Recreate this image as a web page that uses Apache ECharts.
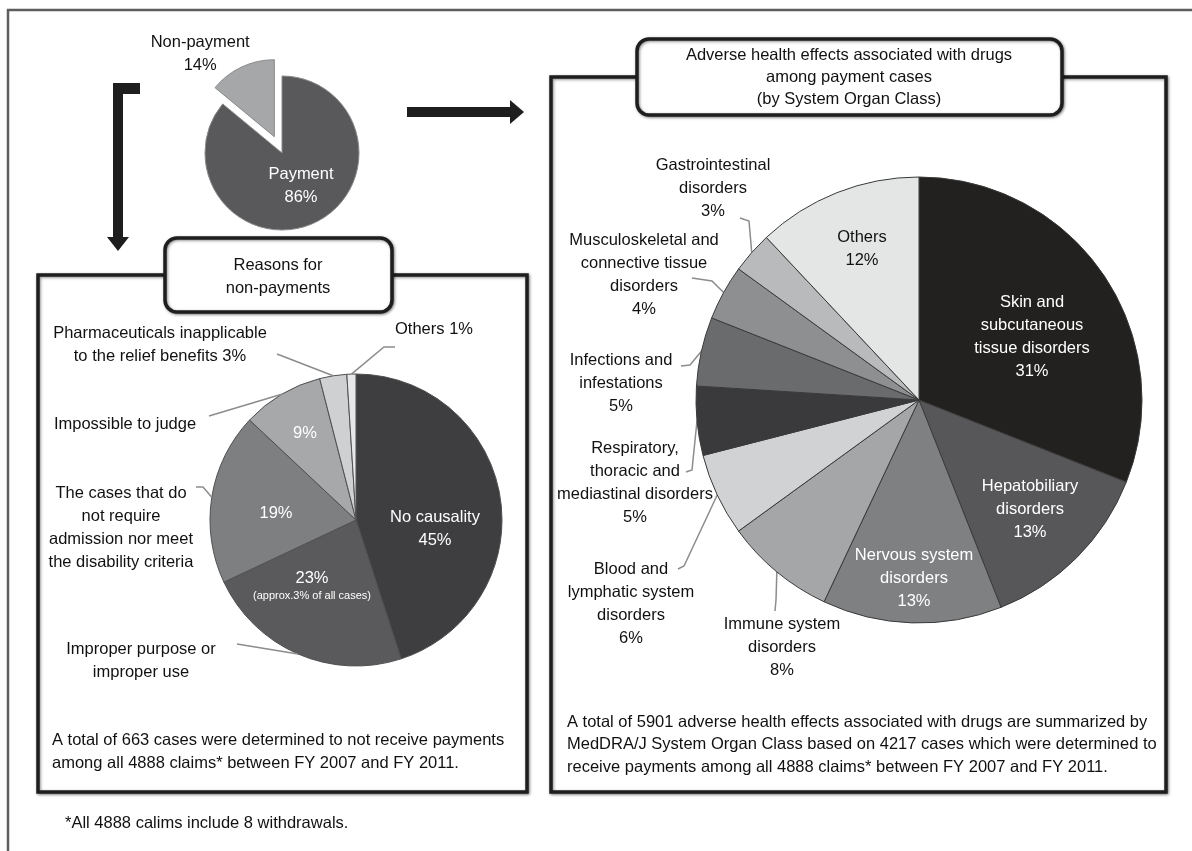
<!DOCTYPE html>
<html>
<head>
<meta charset="utf-8">
<script src="https://cdn.jsdelivr.net/npm/echarts@6/dist/echarts.min.js"></script>
<style>
html,body{margin:0;padding:0;background:#fff;}
#chart{width:1192px;height:851px;}
</style>
</head>
<body>
<div id="chart"></div>
<script>
// ---------- DATA ----------
const payCategories = ['Payment', 'Non-payment'];
const payValues = [86, 14];

const reasonCategories = [
  'No causality',
  'Improper purpose or\nimproper use',
  'The cases that do\nnot require\nadmission nor meet\nthe disability criteria',
  'Impossible to judge',
  'Pharmaceuticals inapplicable\nto the relief benefits',
  'Others'
];
const reasonValues = [45, 23, 19, 9, 3, 1];
const improperNote = '(approx.3% of all cases)';

const socCategories = [
  'Skin and\nsubcutaneous\ntissue disorders',
  'Hepatobiliary\ndisorders',
  'Nervous system\ndisorders',
  'Immune system\ndisorders',
  'Blood and\nlymphatic system\ndisorders',
  'Respiratory,\nthoracic and\nmediastinal disorders',
  'Infections and\ninfestations',
  'Musculoskeletal and\nconnective tissue\ndisorders',
  'Gastrointestinal\ndisorders',
  'Others'
];
const socValues = [31, 13, 13, 8, 6, 5, 5, 4, 3, 12];

const leftTitle = 'Reasons for\nnon-payments';
const rightTitle = 'Adverse health effects associated with drugs\namong payment cases\n(by System Organ Class)';
const leftNote = 'A total of 663 cases were determined to not receive payments\namong all 4888 claims* between FY 2007 and FY 2011.';
const rightNote = 'A total of 5901 adverse health effects associated with drugs are summarized by\nMedDRA/J System Organ Class based on 4217 cases which were determined to\nreceive payments among all 4888 claims* between FY 2007 and FY 2011.';
const footNote = '*All 4888 calims include 8 withdrawals.';

// ---------- STYLE / LAYOUT ----------
const FONT = '"Liberation Sans", Arial, Helvetica, sans-serif';
const FS = 16.5;
const payColors = ['#59595b', '#a5a7a9'];
const reasonColors = ['#3e3e40', '#5a5a5c', '#7e7f81', '#a6a8aa', '#cfd0d2', '#e6e7e8'];
const socColors = ['#222120', '#575759', '#7f8082', '#a4a6a8', '#d1d2d3', '#3a3a3c', '#6a6b6d', '#8d8f91', '#b9babc', '#e4e5e5'];

const payLabelPos = [[301, 186], [175, 77]];
const reasonInsidePos = [[435, 529], [312, 586], [276, 513], [305, 433]];
const reasonOutsidePos = {1: [141, 661], 2: [121, 528], 3: [125, 424], 4: [160, 345], 5: [434, 329]};
const reasonLeader = {1: [[237, 644], [237, 644]], 2: [[203, 487], [196, 487]], 3: [[209, 416], [209, 416]], 4: [[277, 354], [277, 354]], 5: [[384, 347], [395, 347]]};
const socInside = {0: [1032, 337], 1: [1030, 509], 2: [914, 578], 9: [862, 249]};
const socOutside = {3: [782, 647], 4: [631, 604], 5: [635, 483], 6: [621, 383], 7: [644, 275], 8: [713, 188]};
const socLeader = {3: [[776, 600], [775, 611]], 4: [[684, 566], [678, 569]], 5: [[692, 470], [686, 472]], 6: [[690, 365], [681, 366]], 7: [[712, 281], [692, 278]], 8: [[749, 221], [740, 218]]};

function placeAt(pos, leaders) {
  return function (p) {
    const xy = pos[p.dataIndex];
    if (!xy) return {};
    const out = {x: xy[0], y: xy[1], align: 'center', verticalAlign: 'middle'};
    if (leaders && leaders[p.dataIndex] && p.labelLinePoints) {
      const e = p.labelLinePoints[0];
      out.labelLinePoints = [[e[0], e[1]]].concat(leaders[p.dataIndex]);
    }
    return out;
  };
}

const baseLabel = {fontFamily: FONT, fontSize: FS, lineHeight: 23, color: '#111'};

// small pie
const payData = payCategories.map((n, i) => ({
  name: n, value: payValues[i], selected: i === 1,
  itemStyle: {color: payColors[i]},
  label: i === 0
    ? {show: true, position: 'inside', color: '#fff', formatter: n + '\n' + payValues[i] + '%'}
    : {show: true, position: 'outside', color: '#111', formatter: n + '\n' + payValues[i] + '%'},
  labelLine: {show: false}
}));

// reasons pie (slices + inside labels)
const reasonInsideData = reasonCategories.map((n, i) => {
  let fmt = '';
  if (i === 0) fmt = n + '\n' + reasonValues[i] + '%';
  else if (i === 1) fmt = '{a|' + reasonValues[i] + '%}\n{s|' + improperNote + '}';
  else if (i < 4) fmt = reasonValues[i] + '%';
  return {
    name: n, value: reasonValues[i],
    itemStyle: {color: reasonColors[i]},
    label: {show: i < 4, position: 'inside', color: '#fff', formatter: fmt,
      rich: {a: {fontFamily: FONT, fontSize: FS, color: '#fff', lineHeight: 20}, s: {fontFamily: FONT, fontSize: 11, color: '#fff', lineHeight: 16}}}
  };
});
// reasons pie (outside labels)
const reasonOutsideData = reasonCategories.map((n, i) => ({
  name: n, value: reasonValues[i],
  itemStyle: {color: 'rgba(0,0,0,0)', borderWidth: 0},
  label: {show: i > 0, position: 'outside',
    formatter: i >= 4 ? n + ' ' + reasonValues[i] + '%' : n},
  labelLine: {show: i > 0, lineStyle: {color: '#8c8c8c', width: 1.5}}
}));

// SOC pie
const socData = socCategories.map((n, i) => {
  const inside = socInside[i] !== undefined;
  return {
    name: n, value: socValues[i],
    itemStyle: {color: socColors[i]},
    label: {show: true, position: inside ? 'inside' : 'outside',
      color: inside ? (i === 9 ? '#111' : '#fff') : '#111',
      formatter: n + '\n' + socValues[i] + '%'},
    labelLine: {show: !inside, lineStyle: {color: '#8c8c8c', width: 1.5}}
  };
});
const socPos = Object.assign({}, socInside, socOutside);

// ---------- GRAPHICS ----------
const boxStyle = {fill: '#fff', stroke: '#1e1e1e', lineWidth: 3.5, shadowBlur: 3, shadowOffsetX: 1, shadowOffsetY: 1, shadowColor: 'rgba(0,0,0,0.45)'};
function txt(x, y, text, opt) {
  return Object.assign({type: 'text', x: x, y: y, z: 5,
    style: Object.assign({text: text, fontFamily: FONT, fontSize: FS, fill: '#111', align: 'center', verticalAlign: 'middle', lineHeight: 23}, opt || {})});
}

const graphic = [
  // outer frame (top & left)
  {type: 'polyline', z: 0, shape: {points: [[8, 851], [8, 10], [1192, 10]]}, style: {stroke: '#5e5e5e', lineWidth: 2.5, fill: null}},
  // left box
  {type: 'rect', z: 0, shape: {x: 38, y: 275, width: 489, height: 517}, style: boxStyle},
  {type: 'rect', z: 1, shape: {x: 165, y: 238, width: 227, height: 74, r: 12}, style: boxStyle},
  txt(278, 276.5, leftTitle),
  // right box
  {type: 'rect', z: 0, shape: {x: 551, y: 77, width: 615, height: 715}, style: boxStyle},
  {type: 'rect', z: 1, shape: {x: 637, y: 39, width: 425, height: 76, r: 12}, style: boxStyle},
  txt(849, 77, rightTitle, {lineHeight: 22}),
  // arrows
  {type: 'polygon', z: 1, shape: {points: [[407, 107], [510, 107], [510, 100], [524, 112], [510, 124], [510, 117], [407, 117]]}, style: {fill: '#1e1e1e'}},
  {type: 'polygon', z: 1, shape: {points: [[113, 83], [140, 83], [140, 94], [123, 94], [123, 237], [129, 237], [118, 251], [107, 237], [113, 237]]}, style: {fill: '#1e1e1e'}},
  // notes
  txt(52, 728.5, leftNote, {align: 'left', verticalAlign: 'top'}),
  txt(567, 711, rightNote, {align: 'left', verticalAlign: 'top', lineHeight: 22.5}),
  txt(65, 823, footNote, {align: 'left'})
];

const chart = echarts.init(document.getElementById('chart'), null, {renderer: 'canvas'});
chart.setOption({
  animation: false,
  backgroundColor: '#fff',
  graphic: graphic,
  series: [
    {
      type: 'pie', z: 3, center: [282, 153], radius: 77, startAngle: 90,
      selectedMode: 'single', selectedOffset: 18, avoidLabelOverlap: false,
      silent: true, emphasis: {disabled: true},
      itemStyle: {borderColor: '#8a8a8a', borderWidth: 1},
      label: baseLabel,
      labelLayout: placeAt(payLabelPos),
      data: payData
    },
    {
      type: 'pie', z: 3, center: [356, 520], radius: 146, startAngle: 90,
      avoidLabelOverlap: false, silent: true, emphasis: {disabled: true},
      itemStyle: {borderColor: '#505050', borderWidth: 1},
      label: baseLabel,
      labelLayout: placeAt(reasonInsidePos),
      data: reasonInsideData
    },
    {
      type: 'pie', z: 4, center: [356, 520], radius: 146, startAngle: 90,
      avoidLabelOverlap: false, silent: true, emphasis: {disabled: true},
      label: baseLabel,
      labelLine: {show: true, length: 10, length2: 10},
      labelLayout: placeAt(reasonOutsidePos, reasonLeader),
      data: reasonOutsideData
    },
    {
      type: 'pie', z: 3, center: [919, 400], radius: 223, startAngle: 90,
      avoidLabelOverlap: false, silent: true, emphasis: {disabled: true},
      itemStyle: {borderColor: '#3a3a3a', borderWidth: 1},
      label: baseLabel,
      labelLine: {length: 10, length2: 10},
      labelLayout: placeAt(socPos, socLeader),
      data: socData
    }
  ]
});
</script>
</body>
</html>
